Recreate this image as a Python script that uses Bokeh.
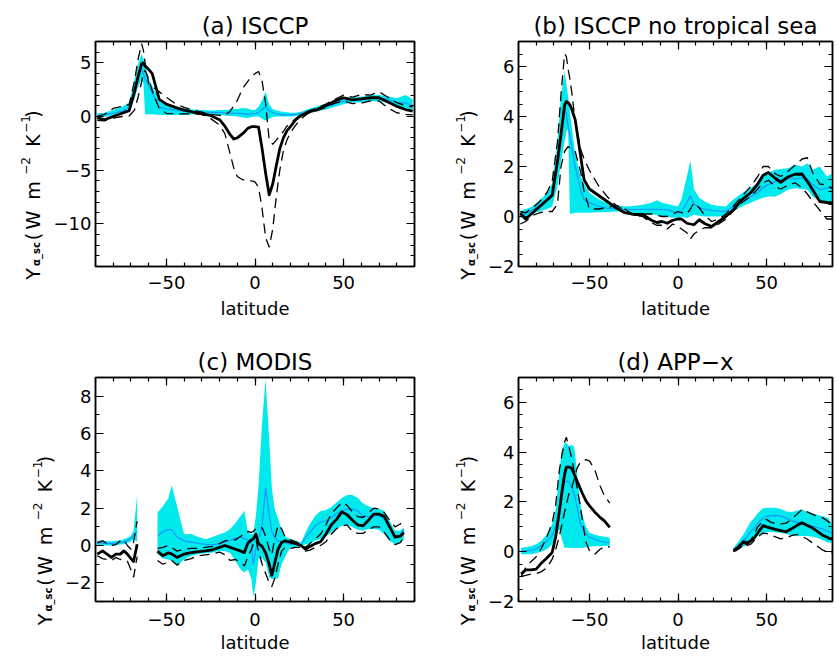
import math
from bokeh.plotting import figure
from bokeh.models import LinearAxis, SingleIntervalTicker, CustomJSTickFormatter, Range1d
from bokeh.core.properties import value
from bokeh.layouts import column, row
from bokeh.embed import file_html
from bokeh.resources import INLINE

FONT = "DejaVu Sans"
CYAN = "#00EAEE"
BLUE = "#1E90FF"

# ---------------- (a) ISCCP ----------------
A_LAT = [-89, -85, -80, -75, -71, -68, -66, -64, -63, -62, -60, -58, -54, -50, -45,
         -40, -35, -30, -25, -20, -17, -14, -12, -10, -7, -4, -2, 0, 2, 4,
         6, 8, 10, 12, 14, 16, 18, 20, 23, 26, 30, 35, 40, 45, 50,
         55, 60, 65, 70, 75, 80, 85, 89]
A_BLACK = [-0.1, -0.3, 0.0, 0.3, 0.55, 2.3, 3.7, 4.9, 5.0, 4.7, 4.4, 4.0, 1.6, 1.15, 0.85,
           0.6, 0.4, 0.25, 0.1, -0.3, -0.9, -1.7, -2.1, -2.0, -1.6, -1.1, -0.95, -0.95, -1.0, -3.0,
           -5.3, -7.3, -6.3, -4.6, -3.0, -2.0, -1.35, -0.95, -0.3, 0.1, 0.4, 0.65, 1.0, 1.45, 1.75,
           1.55, 1.65, 1.75, 1.75, 1.35, 0.95, 0.65, 0.5]
A_UP = [0.0, 0.2, 0.75, 0.95, 1.1, 3.3, 5.3, 6.8, 6.2, 5.0, 3.1, 2.8, 2.3, 1.8, 1.2,
        0.85, 0.6, 0.4, 0.2, 0.1, 0.1, 0.5, 1.0, 1.5, 2.6, 3.3, 3.7, 4.0, 4.2, 3.3,
        1.2, -2.2, -2.6, -2.2, -1.8, -1.4, -0.9, -0.6, -0.2, 0.2, 0.5, 0.8, 1.15, 1.6, 2.0,
        1.8, 2.05, 2.0, 2.3, 1.8, 1.3, 1.0, 0.9]
A_DN = [-0.35, -0.4, -0.15, 0.0, 0.05, 0.6, 1.8, 3.2, 4.0, 4.3, 3.5, 2.4, 0.7, 0.3, 0.25,
        0.25, 0.25, 0.2, -0.2, -0.8, -1.6, -3.5, -4.8, -5.6, -5.9, -6.0, -6.0, -6.1, -6.6, -8.6,
        -11.3, -12.2, -10.5, -7.5, -5.0, -3.2, -2.2, -1.5, -0.8, -0.2, 0.3, 0.55, 0.85, 1.25, 1.45,
        1.2, 1.25, 1.45, 1.45, 0.8, 0.35, 0.2, 0.15]
A_MEAN = [0.1, 0.15, 0.3, 0.5, 0.85, 2.4, 3.6, 4.4, 4.0, 3.55, 2.9, 2.2, 0.85, 0.7, 0.6,
          0.5, 0.45, 0.4, 0.4, 0.35, 0.35, 0.3, 0.3, 0.3, 0.25, 0.2, 0.25, 0.25, 0.4, 0.65,
          0.9, 0.55, 0.35, 0.25, 0.2, 0.15, 0.15, 0.15, 0.2, 0.3, 0.5, 0.7, 0.9, 1.2, 1.45,
          1.55, 1.55, 1.75, 1.7, 1.6, 1.3, 1.25, 1.0]
A_HI = [0.3, 0.35, 0.6, 0.9, 1.3, 3.4, 4.9, 5.8, 5.4, 4.8, 3.5, 2.9, 1.5, 1.1, 0.9,
        0.75, 0.65, 0.6, 0.55, 0.6, 0.6, 0.65, 0.7, 0.7, 0.8, 0.75, 0.6, 0.6, 0.9, 1.5,
        2.3, 1.1, 0.7, 0.55, 0.5, 0.45, 0.4, 0.35, 0.35, 0.45, 0.7, 0.95, 1.2, 1.5, 1.75,
        1.85, 1.85, 2.0, 2.0, 1.9, 1.7, 2.0, 1.6]
A_LO = [-0.1, -0.05, 0.1, 0.2, 0.45, 1.6, 2.8, 3.4, 3.2, 0.2, 0.2, 0.2, 0.15, 0.15, 0.15,
        0.15, 0.2, 0.2, 0.2, 0.15, 0.1, 0.05, 0.05, 0.0, -0.1, -0.15, -0.05, 0.0, 0.0, -0.2,
        -0.4, -0.2, -0.05, 0.0, 0.0, 0.0, 0.0, 0.0, 0.05, 0.15, 0.35, 0.5, 0.65, 0.9, 1.15,
        1.3, 1.3, 1.45, 1.4, 1.3, 1.0, 0.8, 0.6]

# ---------------- (b) ISCCP no tropical sea ----------------
B_LAT = [-89, -86, -82, -78, -74, -71, -68, -66, -64, -63, -62, -61, -60, -58, -55,
         -53, -50, -45, -40, -35, -30, -25, -20, -15, -12, -9, -6, -3, 0, 2,
         5, 7, 9, 12, 15, 19, 23, 27, 31, 36, 41, 45, 48, 51, 55,
         58, 62, 66, 70, 73, 76, 80, 84, 89]
B_BLACK = [0.13, -0.1, 0.15, 0.4, 0.65, 0.85, 2.2, 3.3, 4.45, 4.6, 4.55, 4.47, 4.3, 3.87, 2.45,
           1.47, 1.1, 0.85, 0.6, 0.35, 0.15, 0.08, 0.08, -0.15, -0.24, -0.2, -0.27, -0.15, -0.1, -0.1,
           -0.27, -0.3, -0.33, -0.13, -0.28, -0.4, -0.2, 0.0, 0.25, 0.67, 0.95, 1.3, 1.65, 1.76, 1.52,
           1.37, 1.58, 1.69, 1.7, 1.4, 1.07, 0.6, 0.56, 0.53]
B_MEAN = [0.0, 0.1, 0.27, 0.45, 0.7, 0.93, 2.2, 3.3, 4.4, 4.1, 3.6, 3.2, 2.8, 2.0, 1.1,
          0.67, 0.55, 0.42, 0.33, 0.3, 0.27, 0.28, 0.29, 0.29, 0.29, 0.28, 0.27, 0.2, 0.13, 0.2,
          0.55, 0.83, 0.5, 0.35, 0.29, 0.25, 0.22, 0.2, 0.4, 0.6, 0.8, 0.95, 1.15, 1.28, 1.4,
          1.47, 1.52, 1.5, 1.55, 1.5, 1.27, 1.07, 1.15, 1.1]
B_HI = [0.2, 0.3, 0.4, 0.65, 0.93, 1.33, 3.0, 4.8, 5.8, 5.3, 4.8, 4.2, 3.6, 2.5, 1.6,
        1.3, 0.95, 0.7, 0.53, 0.45, 0.4, 0.42, 0.47, 0.55, 0.65, 0.55, 0.5, 0.45, 0.4, 0.7,
        1.6, 2.24, 1.1, 0.75, 0.6, 0.47, 0.42, 0.4, 0.67, 0.93, 1.15, 1.3, 1.6, 1.75, 1.87,
        1.9, 1.93, 2.07, 2.0, 2.13, 1.87, 2.0, 1.6, 1.8]
B_LO = [-0.07, 0.0, 0.13, 0.2, 0.3, 0.4, 1.2, 2.2, 3.0, 3.4, 3.5, 0.1, 0.12, 0.15, 0.15,
        0.15, 0.15, 0.17, 0.18, 0.2, 0.17, 0.13, 0.13, 0.1, 0.05, 0.0, 0.0, -0.05, -0.05, 0.0,
        -0.07, 0.0, 0.07, 0.03, 0.0, 0.0, 0.0, 0.05, 0.2, 0.4, 0.55, 0.67, 0.75, 0.8, 0.8,
        0.9, 1.07, 1.13, 1.1, 1.07, 0.8, 0.6, 0.53, 0.53]
B_UP = [0.2, 0.15, 0.35, 0.6, 0.95, 1.4, 3.0, 4.9, 6.5, 6.4, 5.9, 5.5, 5.0, 3.8, 2.7,
        2.3, 1.85, 1.25, 0.8, 0.45, 0.25, 0.1, 0.1, 0.1, 0.05, 0.0, 0.0, 0.1, 0.2, 0.15,
        0.1, 0.3, 0.55, 0.35, 0.05, -0.2, -0.1, 0.1, 0.4, 0.8, 1.2, 1.6, 2.0, 2.0, 1.7,
        1.6, 1.8, 2.05, 2.3, 2.35, 1.75, 1.3, 1.25, 1.05]
B_DN = [-0.3, -0.2, 0.05, 0.15, 0.2, 0.2, 0.5, 2.0, 2.6, 2.7, 2.8, 2.75, 2.7, 2.6, 1.8,
        1.0, 0.3, 0.3, 0.35, 0.45, 0.3, 0.05, 0.0, -0.25, -0.35, -0.35, -0.5, -0.3, -0.4, -0.5,
        -0.65, -0.9, -0.7, -0.55, -0.45, -0.45, -0.3, -0.1, 0.2, 0.55, 0.8, 1.1, 1.35, 1.45, 1.2,
        1.1, 1.25, 1.35, 1.15, 0.9, 0.6, 0.25, -0.1, -0.1]

# ---------------- (c) MODIS (two segments) ----------------
C1_LAT = [-89, -86, -83.5, -81, -78.5, -76, -74, -72, -70, -68.5, -66.5]
C1_BLACK = [-0.46, -0.29, -0.46, -0.64, -0.46, -0.46, -0.29, -0.46, -0.7, -0.86, 0.07]
C1_MEAN = [0.13, 0.12, 0.1, 0.1, 0.12, 0.15, 0.2, 0.28, 0.38, 0.55, 0.75]
C1_HI = [0.25, 0.25, 0.23, 0.23, 0.25, 0.28, 0.34, 0.42, 0.52, 0.8, 2.7]
C1_LO = [-0.02, 0.0, 0.0, 0.0, 0.02, 0.05, 0.07, 0.13, 0.22, 0.35, 0.2]
C1_UP = [0.15, 0.25, 0.1, 0.0, 0.05, 0.25, 0.3, 0.0, -0.2, 0.2, 1.3]
C1_DN = [-0.55, -0.7, -0.75, -0.8, -0.65, -0.75, -0.8, -0.85, -1.3, -1.7, -0.6]

C2_LAT = [-55, -52, -49, -47, -44, -40, -36, -32, -28, -24, -20, -17, -14, -11, -8,
          -6, -4, -2, -1, 0.5, 2, 4, 6, 8, 9.5, 11, 13, 15, 17, 20,
          23, 26, 28.5, 31, 34, 37, 40, 43, 46, 49, 52, 55, 58, 61, 64,
          67, 70, 73, 76, 79, 82, 84]
C2_BLACK = [-0.3, -0.55, -0.4, -0.45, -0.64, -0.46, -0.38, -0.33, -0.29, -0.23, -0.1, 0.0, -0.1, -0.2, -0.3,
            -0.38, 0.13, 0.3, 0.35, 0.6, 0.1, -0.05, -0.4, -1.0, -1.6, -1.0, -0.2, 0.16, 0.25, 0.18,
            0.1, 0.0, -0.2, -0.05, 0.1, 0.2, 0.6, 1.1, 1.4, 1.8, 1.65, 1.35, 1.1, 1.05, 1.35,
            1.68, 1.68, 1.55, 1.0, 0.45, 0.5, 0.7]
C2_MEAN = [0.5, 0.75, 0.85, 0.85, 0.45, 0.25, 0.18, 0.11, 0.07, 0.04, 0.1, 0.17, 0.28, 0.4, 0.45,
           0.38, 0.3, 0.15, -1.0, -0.2, 0.35, 1.05, 3.1, 1.7, 0.75, 0.45, 0.25, 0.2, 0.15, 0.07,
           0.07, 0.07, 0.43, 0.7, 1.05, 1.25, 1.32, 1.5, 1.7, 1.86, 1.95, 1.95, 1.85, 1.55, 1.55,
           1.6, 1.59, 1.4, 0.95, 0.55, 0.55, 0.88]
C2_HI = [1.77, 2.1, 2.5, 3.23, 2.1, 0.6, 0.61, 0.45, 0.34, 0.45, 0.6, 0.7, 0.88, 1.2, 1.6,
         1.86, 0.7, 0.6, 0.6, 1.6, 3.2, 6.6, 8.9, 5.7, 3.1, 2.0, 1.45, 0.8, 0.5, 0.34,
         0.25, 0.16, 0.7, 1.15, 1.6, 1.85, 1.9, 2.05, 2.3, 2.55, 2.7, 2.7, 2.55, 2.25, 2.1,
         2.0, 1.95, 1.86, 1.3, 0.8, 0.79, 0.96]
C2_LO = [-0.46, -0.7, -0.75, -0.8, -1.09, -0.75, -0.55, -0.46, -0.42, -0.38, -0.3, -0.29, -0.4, -0.85, -1.3,
         -1.45, -1.27, -1.8, -2.8, -2.0, -0.7, -0.7, -0.9, -1.7, -1.8, -1.8, -1.75, -1.0, -0.6, -0.1,
         -0.1, 0.0, 0.05, 0.1, 0.25, 0.35, 0.5, 0.7, 0.88, 1.05, 1.14, 0.98, 0.85, 0.8, 0.88,
         0.88, 0.85, 0.6, 0.25, 0.07, 0.2, 0.34]
C2_UP = [-0.15, -0.1, 0.0, -0.1, -0.3, -0.2, -0.15, -0.15, -0.1, -0.05, 0.1, 0.25, 0.3, 0.3, 0.5,
         0.65, 0.75, 0.7, 0.75, 0.9, 1.0, 0.95, 0.5, -0.2, -0.5, 0.3, 1.1, 0.9, 0.45, 0.3,
         0.2, 0.05, -0.1, 0.1, 0.35, 0.6, 1.1, 1.7, 2.0, 2.3, 2.15, 1.8, 1.55, 1.5, 1.75,
         2.0, 1.95, 1.75, 1.35, 1.0, 1.15, 1.35]
C2_DN = [-0.8, -1.0, -0.9, -0.8, -1.05, -0.8, -0.7, -0.55, -0.5, -0.45, -0.35, -0.5, -0.8, -0.75, -0.9,
         -1.1, -0.6, -0.2, 0.05, 0.3, -0.3, -1.0, -1.5, -2.0, -2.2, -1.8, -1.0, -0.3, -0.1, -0.15,
         -0.1, -0.1, -0.3, -0.25, -0.1, 0.0, 0.2, 0.6, 0.9, 1.05, 1.1, 0.75, 0.65, 0.65, 0.85,
         1.0, 1.0, 0.7, 0.3, 0.05, 0.15, 0.45]

# ---------------- (d) APP-x (two segments) ----------------
D1_LAT = [-88.5, -86, -83, -80, -77, -74, -71, -69, -67, -65.5, -64, -63, -61.5, -60, -58.5,
          -57, -55.5, -54, -52, -50, -47, -44, -41.5, -38.5]
D1_BLACK = [-0.9, -0.73, -0.73, -0.7, -0.45, -0.25, -0.03, 0.6, 1.6, 2.4, 3.1, 3.4, 3.4, 3.35, 3.1,
            2.85, 2.6, 2.35, 2.05, 1.85, 1.6, 1.38, 1.24, 0.98]
D1_MEAN = [0.03, 0.04, 0.06, 0.12, 0.25, 0.43, 0.65, 1.0, 1.65, 2.4, 2.8, 2.84, 2.8, 2.6, 2.3,
           1.83, 1.25, 0.95, 0.72, 0.58, 0.5, 0.43, 0.39, 0.36]
D1_HI = [0.16, 0.18, 0.22, 0.3, 0.45, 0.7, 1.1, 1.7, 3.2, 4.1, 4.35, 4.38, 4.25, 4.3, 4.2,
         3.2, 2.1, 1.5, 1.0, 0.76, 0.68, 0.63, 0.6, 0.56]
D1_LO = [-0.1, -0.1, -0.1, -0.05, 0.0, 0.1, 0.3, 0.6, 0.9, 0.5, 0.16, 0.16, 0.16, 0.15, 0.15,
         0.15, 0.15, 0.16, 0.17, 0.2, 0.22, 0.23, 0.23, 0.25]
D1_UP = [-1.0, -0.95, -0.9, -0.88, -0.8, -0.65, -0.3, 0.1, 0.6, 1.1, 1.6, 1.9, 2.35, 2.55, 2.95,
         3.35, 3.55, 3.65, 3.7, 3.65, 3.3, 2.65, 2.25, 1.95]
D1_DN = [-1.0, -0.65, -0.4, -0.2, 0.15, 0.6, 1.15, 1.9, 3.25, 3.9, 4.4, 4.6, 4.2, 3.75, 3.2,
         2.6, 2.0, 1.3, 0.4, 0.05, -0.1, 0.1, 0.2, 0.2]

D2_LAT = [31.3, 33, 35, 37, 39, 41, 43, 45, 48, 50, 52, 55, 58, 61, 64,
          67, 70, 73, 76, 79, 82, 85, 87, 89.5]
D2_BLACK = [0.03, 0.12, 0.23, 0.4, 0.3, 0.44, 0.55, 0.75, 1.05, 1.0, 0.96, 0.9, 0.85, 0.8, 0.92,
            1.05, 1.16, 1.05, 0.95, 0.8, 0.65, 0.55, 0.5, 0.8]
D2_MEAN = [0.1, 0.2, 0.32, 0.45, 0.6, 0.8, 0.95, 1.15, 1.35, 1.42, 1.45, 1.46, 1.43, 1.35, 1.25,
           1.19, 1.12, 1.1, 1.02, 0.96, 0.9, 0.8, 0.76, 0.9]
D2_HI = [0.15, 0.3, 0.5, 0.7, 0.95, 1.2, 1.35, 1.55, 1.75, 1.77, 1.77, 1.77, 1.72, 1.62, 1.6,
         1.65, 1.7, 1.6, 1.55, 1.48, 1.42, 1.35, 1.1, 1.75]
D2_LO = [0.0, 0.05, 0.12, 0.2, 0.3, 0.42, 0.55, 0.65, 0.76, 0.78, 0.8, 0.78, 0.75, 0.72, 0.65,
         0.62, 0.63, 0.63, 0.6, 0.55, 0.45, 0.36, 0.36, 0.5]
D2_UP = [0.05, 0.15, 0.3, 0.45, 0.4, 0.45, 0.7, 1.0, 1.25, 1.3, 1.2, 1.12, 1.12, 1.15, 1.3,
         1.5, 1.7, 1.6, 1.5, 1.42, 1.35, 1.2, 1.05, 1.4]
D2_DN = [0.0, 0.05, 0.15, 0.3, 0.25, 0.3, 0.45, 0.6, 0.75, 0.73, 0.68, 0.6, 0.52, 0.55, 0.65,
         0.7, 0.62, 0.5, 0.35, 0.2, 0.05, -0.02, -0.05, 0.05]

TITLES = ["(a) ISCCP", "(b) ISCCP no tropical sea", "(c) MODIS", "(d) APP\u2212x"]
XLABEL = "latitude"
# y-label pieces: text, centre offset along axis (px, up), baseline shift (px, right), size, style
YLAB_PIECES = [
    ("Y", -79.0, 0.0, 19, "normal"),
    ("\u03b1_sc", -59.0, 3.4, 10, "bold"),
    ("(", -41.5, 0.0, 19, "normal"),
    ("W", -25.0, 0.0, 19, "normal"),
    ("m", 4.5, 0.0, 19, "normal"),
    ("\u22122", 29.0, -7.6, 12, "normal"),
    ("K", 54.5, 0.0, 19, "normal"),
    ("\u22121", 71.0, -7.6, 12, "normal"),
    (")", 81.0, 0.0, 19, "normal"),
]

PXD = 319.0 / 180.0
FMT_CODE = "return (tick < 0 ? '\u2212' : '') + Math.abs(tick).toString();"


def style_axis(ax, ticker, labels, standoff=0):
    ax.ticker = ticker
    ax.axis_line_color = "black"
    ax.axis_line_width = 1.5
    ax.major_tick_in = 8
    ax.major_tick_out = 0
    ax.minor_tick_in = 4
    ax.minor_tick_out = 0
    ax.major_tick_line_color = "black"
    ax.minor_tick_line_color = "black"
    ax.major_tick_line_width = 1.2
    ax.minor_tick_line_width = 1.2
    if labels:
        ax.formatter = CustomJSTickFormatter(code=FMT_CODE)
        ax.major_label_text_font = FONT
        ax.major_label_text_font_size = "18px"
        ax.major_label_text_color = "black"
        ax.major_label_standoff = standoff
    else:
        ax.formatter = CustomJSTickFormatter(code="return '';")
        ax.major_label_text_font_size = "0px"
        ax.major_label_standoff = 0


def ylabel_fig(W, T, fh, B, base_x):
    H = T + fh + B
    f = figure(frame_width=W, frame_height=H, x_range=Range1d(0, W), y_range=Range1d(0, H),
               x_axis_type=None, y_axis_type=None, output_backend="svg", toolbar_location=None,
               min_border=0, min_border_left=0, min_border_right=0, min_border_top=0,
               min_border_bottom=0)
    f.outline_line_color = None
    f.xgrid.visible = False
    f.ygrid.visible = False
    yc_top = T + fh / 2.0
    for txt, rel, dx, size, style in YLAB_PIECES:
        f.text(x=[base_x + dx], y=[H - (yc_top - rel)], text=[txt], angle=math.pi / 2,
               text_align="center", text_baseline="alphabetic",
               text_font=value(FONT), text_font_size=value("%dpx" % size),
               text_font_style=value(style), text_color="black")
    return f


def panel(title, segments, fw, fh, yr, y_int, y_minor, borders, title_standoff, xstand, xlab_stand):
    L, R, T, B = borders
    x_end = -90 + fw / PXD
    p = figure(frame_width=fw, frame_height=fh,
               x_range=Range1d(-90, x_end), y_range=Range1d(yr[0], yr[1]),
               output_backend="svg", toolbar_location=None, title=title,
               min_border_left=L, min_border_right=R, min_border_top=T, min_border_bottom=B)
    p.xgrid.visible = False
    p.ygrid.visible = False
    p.outline_line_color = "black"
    p.outline_line_width = 1.5
    p.background_fill_color = "white"
    p.border_fill_color = "white"
    p.title.align = "center"
    p.title.text_font = FONT
    p.title.text_font_size = "23px"
    p.title.text_font_style = "normal"
    p.title.text_color = "black"
    p.title.standoff = title_standoff

    for s in segments:
        lat, lo, hi, mean, up, dn, blk = s
        p.varea(x=lat, y1=lo, y2=hi, fill_color=CYAN, fill_alpha=1.0)
        p.line(lat, mean, line_color=BLUE, line_width=1.1)
        p.line(lat, up, line_color="black", line_width=1.3, line_dash="10 6")
        p.line(lat, dn, line_color="black", line_width=1.3, line_dash="10 6")
        p.line(lat, blk, line_color="black", line_width=2.8, line_join="round")

    xt = SingleIntervalTicker(interval=50, num_minor_ticks=5)
    yt = SingleIntervalTicker(interval=y_int, num_minor_ticks=y_minor)
    xa = p.xaxis[0]
    style_axis(xa, xt, True, xstand)
    xa.axis_label = XLABEL
    xa.axis_label_text_font = FONT
    xa.axis_label_text_font_size = "18px"
    xa.axis_label_text_font_style = "normal"
    xa.axis_label_text_color = "black"
    xa.axis_label_standoff = xlab_stand
    style_axis(p.yaxis[0], yt, True, 4)
    top = LinearAxis()
    style_axis(top, xt, False)
    p.add_layout(top, "above")
    right = LinearAxis()
    style_axis(right, yt, False)
    p.add_layout(right, "right")
    return p


FW_RIGHT = 314
ROW1 = (41, 225, 60)   # top border, frame height, bottom border
ROW2 = (51, 224, 56)

pa = panel(TITLES[0], [(A_LAT, A_LO, A_HI, A_MEAN, A_UP, A_DN, A_BLACK)],
           319, ROW1[1], (-14, 7), 5, 5, (49, 26, ROW1[0], ROW1[2]), 5, 9, 6)
pb = panel(TITLES[1], [(B_LAT, B_LO, B_HI, B_MEAN, B_UP, B_DN, B_BLACK)],
           FW_RIGHT, ROW1[1], (-2, 7), 2, 4, (37, 2, ROW1[0], ROW1[2]), 5, 9, 6)
pc = panel(TITLES[2], [(C1_LAT, C1_LO, C1_HI, C1_MEAN, C1_UP, C1_DN, C1_BLACK),
                       (C2_LAT, C2_LO, C2_HI, C2_MEAN, C2_UP, C2_DN, C2_BLACK)],
           319, ROW2[1], (-3, 9), 2, 2, (37, 26, ROW2[0], ROW2[2]), 6, 11, 3)
pd = panel(TITLES[3], [(D1_LAT, D1_LO, D1_HI, D1_MEAN, D1_UP, D1_DN, D1_BLACK),
                       (D2_LAT, D2_LO, D2_HI, D2_MEAN, D2_UP, D2_DN, D2_BLACK)],
           FW_RIGHT, ROW2[1], (-2, 7), 2, 4, (37, 2, ROW2[0], ROW2[2]), 6, 11, 3)

la = ylabel_fig(46, ROW1[0], ROW1[1], ROW1[2], 32.3)
lb = ylabel_fig(41, ROW1[0], ROW1[1], ROW1[2], 27.3)
lc = ylabel_fig(58, ROW2[0], ROW2[1], ROW2[2], 44.3)
ld = ylabel_fig(41, ROW2[0], ROW2[1], ROW2[2], 27.3)

layout = column(row(la, pa, lb, pb), row(lc, pc, ld, pd))
with open("out.html", "w", encoding="utf-8") as f:
    f.write(file_html(layout, INLINE))
